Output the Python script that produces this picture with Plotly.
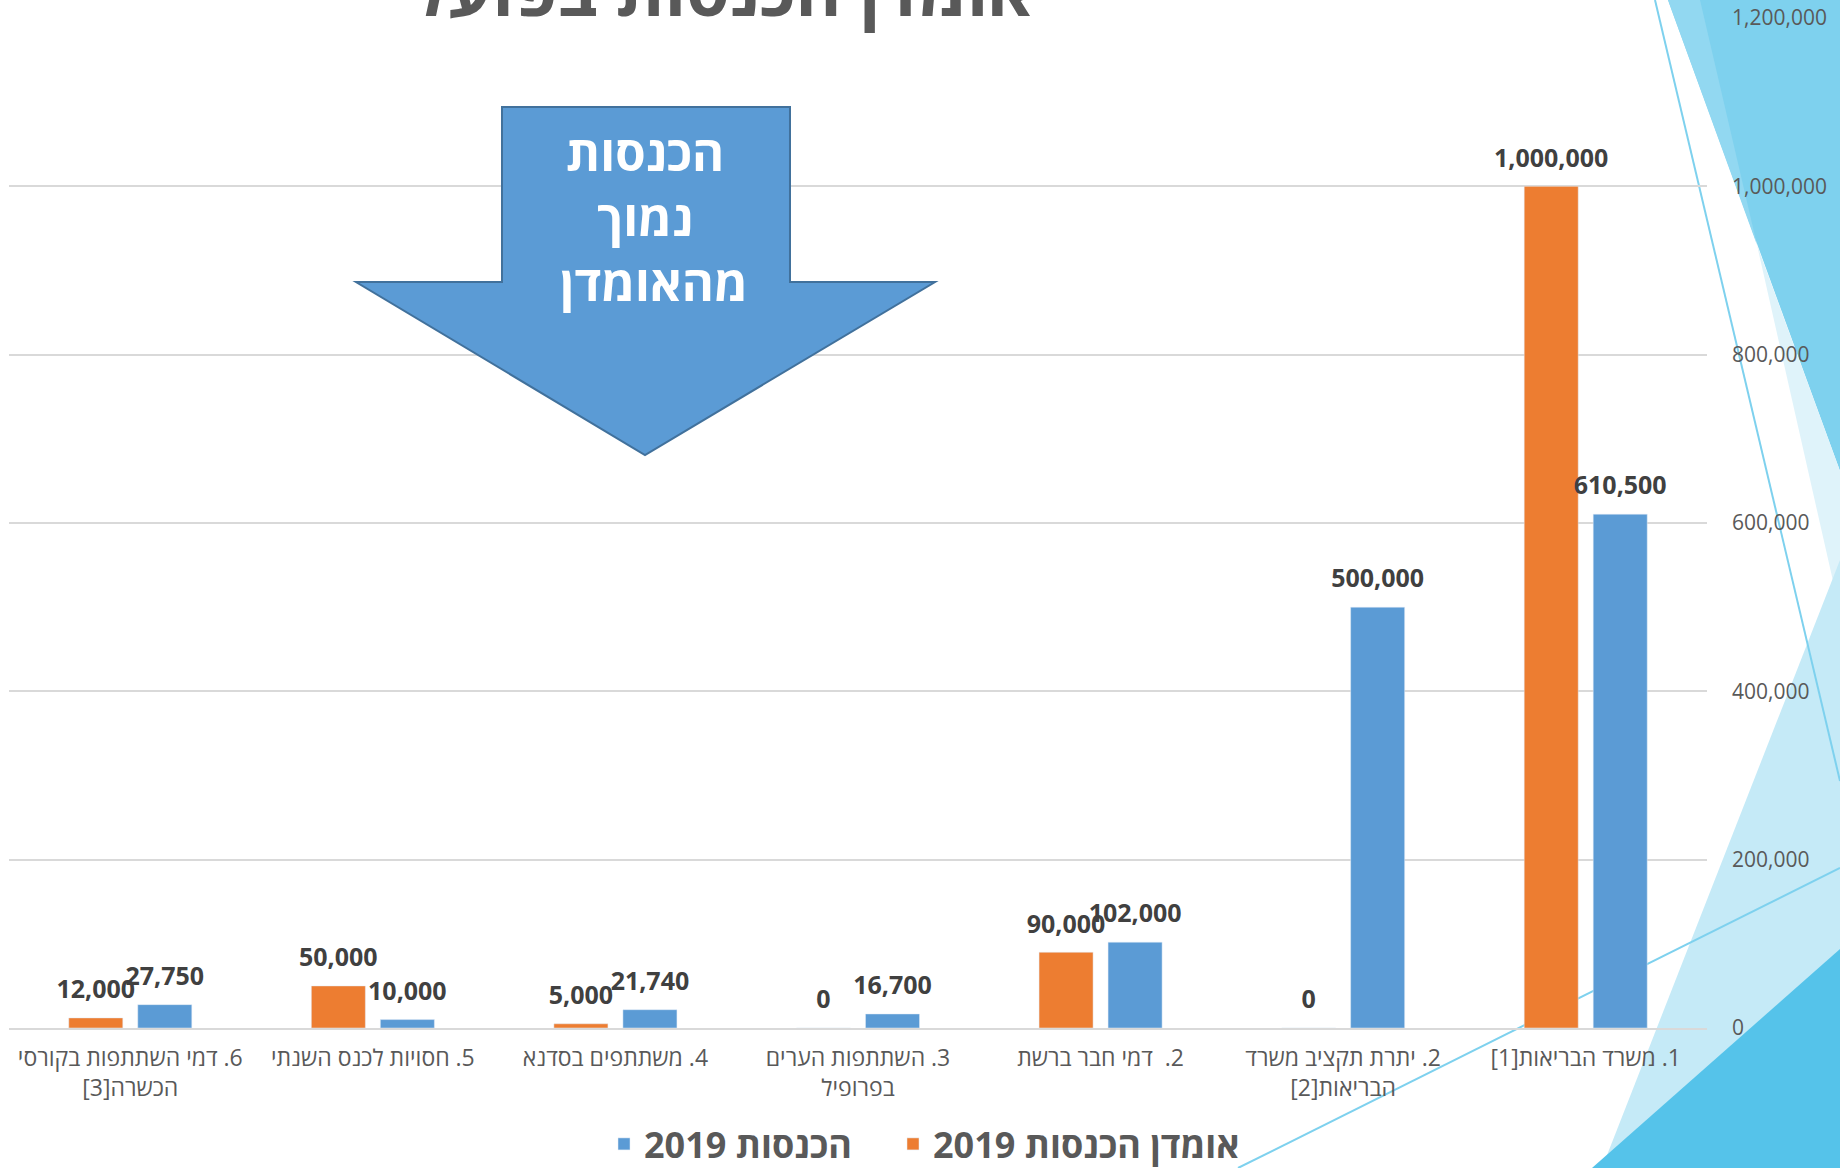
import plotly.graph_objects as go

# ---------------- data ----------------
category_lines = [
    ["1. משרד הבריאות[1]"],
    ["2. יתרת תקציב משרד", "הבריאות[2]"],
    ["2.\u00a0 דמי חבר ברשת"],
    ["3. השתתפות הערים", "בפרופיל"],
    ["4. משתתפים בסדנא"],
    ["5. חסויות לכנס השנתי"],
    ["6. דמי השתתפות בקורסי", "הכשרה[3]"],
]
estimate_2019 = [1000000, 0, 90000, 0, 5000, 50000, 12000]
actual_2019 = [610500, 500000, 102000, 16700, 21740, 10000, 27750]
series_names = ["הכנסות 2019", "אומדן הכנסות 2019"]
series_colors = ["#5B9BD5", "#ED7D31"]
y_ticks = [0, 200000, 400000, 600000, 800000, 1000000, 1200000]
title_text = "אומדן הכנסות בפועל"
arrow_lines = ["הכנסות", "נמוך", "מהאומדן"]

RLE, PDF = "\u202B", "\u202C"
categories = ["<br>".join(RLE + ln + PDF for ln in lines) for lines in category_lines]

# ---------------- geometry helpers ----------------
W, H = 1840, 1168
L, R, T, B = 9, 133, 18, 140
PW, PH = W - L - R, H - T - B


def xp(px):
    return (px - L) / PW


def yp(py):
    return (T + PH - py) / PH


def path(points):
    return "M " + " L ".join(f"{xp(x):.5f},{yp(y):.5f}" for x, y in points) + " Z"


GRAY = "#595959"
FONT = "Open Sans, Liberation Sans, DejaVu Sans, sans-serif"
LABEL_FONT = dict(family=FONT, size=25, color="#404040", weight="bold")
LEGEND_FONT = dict(family=FONT, size=36, color=GRAY, weight="bold")
BARGAP = 0.431

fig = go.Figure()
for name, vals, col, lg in [(series_names[0], actual_2019, series_colors[0], "legend"),
                            (series_names[1], estimate_2019, series_colors[1], "legend2")]:
    fig.add_trace(go.Bar(x=categories, y=vals, name=name, marker=dict(color=col), legend=lg))
# value labels (grouped so they sit over their bars)
for name, vals in [(series_names[0], actual_2019), (series_names[1], estimate_2019)]:
    fig.add_trace(go.Scatter(
        x=categories, y=vals, mode="markers+text", showlegend=False, hoverinfo="skip",
        text=[f"{v:,}" for v in vals], textposition="top center", textfont=LABEL_FONT,
        marker=dict(size=20, color="rgba(0,0,0,0)"), cliponaxis=False, name=name,
    ))

# ---------------- decorative background shapes ----------------
shapes = []
deco = [
    ([(1668, 0), (1840, 0), (1840, 471)], "#7ED1EE"),
    ([(1668, 0), (1700, 0), (1757, 245)], "#92D8F1"),
    ([(1757, 245), (1840, 471), (1840, 612)], "#DFF3FA"),
    ([(1840, 560), (1840, 1168), (1602, 1168)], "#C5EAF7"),
    ([(1840, 949), (1840, 1168), (1592, 1168)], "#55C3EA"),
]
for pts, col in deco:
    shapes.append(dict(type="path", xref="paper", yref="paper", path=path(pts),
                       fillcolor=col, line=dict(width=0), layer="below"))
for (x0, y0), (x1, y1) in [((1655, 0), (1840, 781)), ((1238, 1168), (1840, 868))]:
    shapes.append(dict(type="line", xref="paper", yref="paper",
                       x0=xp(x0), y0=yp(y0), x1=xp(x1), y1=yp(y1),
                       line=dict(color="#7ED1EE", width=2), layer="below"))

# down arrow callout
arrow_pts = [(502, 107), (790, 107), (790, 282), (935, 282), (645, 455), (356, 282), (502, 282)]
shapes.append(dict(type="path", xref="paper", yref="paper", path=path(arrow_pts),
                   fillcolor="#5B9BD5", line=dict(color="#41719C", width=2), layer="above"))

annotations = []
for i, (t, dx) in enumerate(zip(arrow_lines, [0, 0, 9])):
    annotations.append(dict(
        x=xp(645 + dx), y=yp(152 + 65 * i), xref="paper", yref="paper",
        text=t, showarrow=False, xanchor="center", yanchor="middle",
        font=dict(family=FONT, size=49, color="white", weight="bold"),
    ))
annotations.append(dict(
    x=xp(722), y=yp(39), xref="paper", yref="paper", text=title_text,
    showarrow=False, xanchor="center", yanchor="bottom",
    font=dict(family=FONT, size=70, color=GRAY, weight="bold"),
))


def legend_at(text_start_px):
    return dict(orientation="h", xref="container", yref="container",
                x=(text_start_px - 40) / W, xanchor="left", y=1 - 1144 / H, yanchor="middle",
                font=LEGEND_FONT, bgcolor="rgba(0,0,0,0)")


fig.update_layout(
    width=W, height=H,
    margin=dict(l=L, r=R, t=T, b=B, pad=0, autoexpand=False),
    paper_bgcolor="white", plot_bgcolor="rgba(0,0,0,0)",
    barmode="group", bargap=BARGAP, bargroupgap=0.217,
    scattermode="group", scattergap=BARGAP,
    shapes=shapes, annotations=annotations,
    showlegend=True,
    legend=legend_at(644), legend2=legend_at(933),
    font=dict(family=FONT, color=GRAY),
)
fig.update_xaxes(
    type="category", autorange="reversed", automargin=False,
    showline=True, linecolor="#D9D9D9", linewidth=2,
    showgrid=False, ticks="", ticklabelstandoff=8,
    tickfont=dict(family=FONT, size=23, color=GRAY),
)
fig.update_yaxes(
    range=[0, 1200000], tickvals=y_ticks, tickformat=",", automargin=False,
    side="right", showgrid=True, gridcolor="#D9D9D9", gridwidth=1.5,
    zeroline=False, showline=False, ticks="", ticklabelstandoff=24,
    tickfont=dict(family=FONT, size=21, color=GRAY),
)

fig.write_html("out.html", config={"displayModeBar": False},
               post_script="document.body.style.margin='0';")
